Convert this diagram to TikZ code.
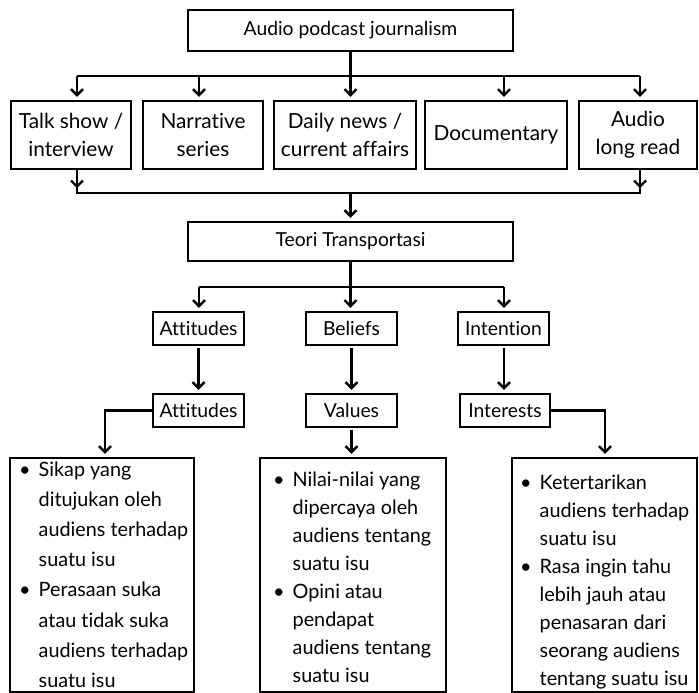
\documentclass[tikz,border=0pt]{standalone}
\usepackage{fontspec}
\setmainfont{Lato}[Ligatures=NoCommon]
\usetikzlibrary{arrows.meta}
\begin{document}
\begin{tikzpicture}[x=1pt,y=-1pt,
  box/.style={draw, line width=2.4pt, inner sep=0pt, align=center, font=\fontsize{19.3}{27}\selectfont},
  rowbox/.style={box, minimum height=68pt, font=\fontsize{20.8}{28}\selectfont},
  ln/.style={line width=2.4pt},
  arr/.style={line width=2.4pt, -{Straight Barb[length=6pt,width=12pt]}},
  btext/.style={inner sep=0pt, anchor=base west, font=\fontsize{19.8}{28}\selectfont},
]
\useasboundingbox (0,0) rectangle (699,693);
% boxes
\node[box, minimum width=325pt, minimum height=41pt] (top) at (350.5,30.5) {Audio podcast journalism};
\node[rowbox, minimum width=120pt] (talk) at (71,135) {Talk show /\\interview};
\node[rowbox, minimum width=120pt] (narr) at (203,135) {Narrative\\series};
\node[rowbox, minimum width=142pt] (daily) at (345,135) {Daily news /\\current affairs};
\node[rowbox, minimum width=142pt] (doc) at (496,135) {Documentary};
\node[rowbox, minimum width=118pt] (audio) at (638,135) {Audio\\long read};
\node[box, minimum width=325pt, minimum height=39pt] (teori) at (350.5,241.5) {Teori Transportasi};
\node[box, minimum width=91pt, minimum height=33pt] (att1) at (198.5,328.5) {Attitudes};
\node[box, minimum width=91pt, minimum height=33pt] (bel) at (351.5,328.5) {Beliefs};
\node[box, minimum width=91pt, minimum height=33pt] (int) at (503.5,328.5) {Intention};
\node[box, minimum width=91pt, minimum height=33pt] (att2) at (198.5,410.5) {Attitudes};
\node[box, minimum width=91pt, minimum height=33pt] (val) at (351.5,410.5) {Values};
\node[box, minimum width=90pt, minimum height=33pt] (intr) at (505,410.5) {Interests};
\node[box, minimum width=184pt, minimum height=234pt] (bleft) at (102,575) {};
\node[box, minimum width=186pt, minimum height=234pt] (bmid) at (353,575) {};
\node[box, minimum width=185pt, minimum height=234pt] (bright) at (604.5,575) {};
% bullet texts
\node[btext, font=\fontsize{19.8}{30.2}\selectfont] (tL) at (19,476) {\begin{tabular}[t]{@{}l@{\hspace{8pt}}l@{}}
\textbullet & Sikap yang\\ & ditujukan oleh\\ & audiens terhadap\\ & suatu isu\\
\textbullet & Perasaan suka\\ & atau tidak suka\\ & audiens terhadap\\ & suatu isu\end{tabular}};
\node[btext] (tM) at (273,486) {\begin{tabular}[t]{@{}l@{\hspace{8pt}}l@{}}
\textbullet & Nilai-nilai yang\\ & dipercaya oleh\\ & audiens tentang\\ & suatu isu\\
\textbullet & Opini atau\\ & pendapat\\ & audiens tentang\\ & suatu isu\end{tabular}};
\node[btext] (tR) at (520,489) {\begin{tabular}[t]{@{}l@{\hspace{8pt}}l@{}}
\textbullet & Ketertarikan\\ & audiens terhadap\\ & suatu isu\\
\textbullet & Rasa ingin tahu\\ & lebih jauh atau\\ & penasaran dari\\ & seorang audiens\\ & tentang suatu isu\end{tabular}};
% top connectors
\coordinate (jL) at (77,76);
\coordinate (jN) at (199,76);
\coordinate (jD) at (504,76);
\coordinate (jR) at (640,76);
\draw[ln] (jL) -- (jR);
\draw[arr, shorten >=3pt] (top.south) -- (top.south |- daily.north);
\draw[arr, shorten >=3pt] (jL) -- (jL |- talk.north);
\draw[arr, shorten >=3pt] (jN) -- (jN |- narr.north);
\draw[arr, shorten >=3pt] (jD) -- (jD |- doc.north);
\draw[arr, shorten >=3pt] (jR) -- (jR |- audio.north);
% collecting line
\coordinate (kL) at (77,193);
\coordinate (kR) at (640,193);
\coordinate (kM) at (350.5,193);
\draw[ln] (kL |- talk.south) -- (kL) -- (kR) -- (kR |- audio.south);
\draw[arr] (kL |- talk.south) -- ++(0,18);
\draw[arr] (kR |- audio.south) -- ++(0,18);
\draw[arr, shorten >=3pt] (kM) -- (teori.north);
% teori branches
\coordinate (mL) at (199,287);
\coordinate (mR) at (504,287);
\draw[ln] (mL) -- (mR);
\draw[arr, shorten >=3pt] (teori.south) -- (teori.south |- bel.north);
\draw[arr, shorten >=3pt] (mL) -- (mL |- att1.north);
\draw[arr, shorten >=3pt] (mR) -- (mR |- int.north);
% second level
\draw[arr, shorten <=2pt, shorten >=3pt] (att1.south) -- (att2.north);
\draw[arr, shorten <=2pt, shorten >=3pt] (bel.south) -- (val.north);
\draw[arr, shorten <=2pt, shorten >=3pt] (mR |- int.south) -- (mR |- intr.north);
% to bottom boxes
\coordinate (nL) at (105,410.5);
\coordinate (nR) at (605,410.5);
\draw[arr, shorten >=3pt] (att2.west) -- (nL) -- (nL |- bleft.north);
\draw[arr, shorten <=2pt, shorten >=3pt] (val.south) -- (val.south |- bmid.north);
\draw[arr, shorten >=3pt] (intr.east) -- (nR) -- (nR |- bright.north);
\end{tikzpicture}
\end{document}
